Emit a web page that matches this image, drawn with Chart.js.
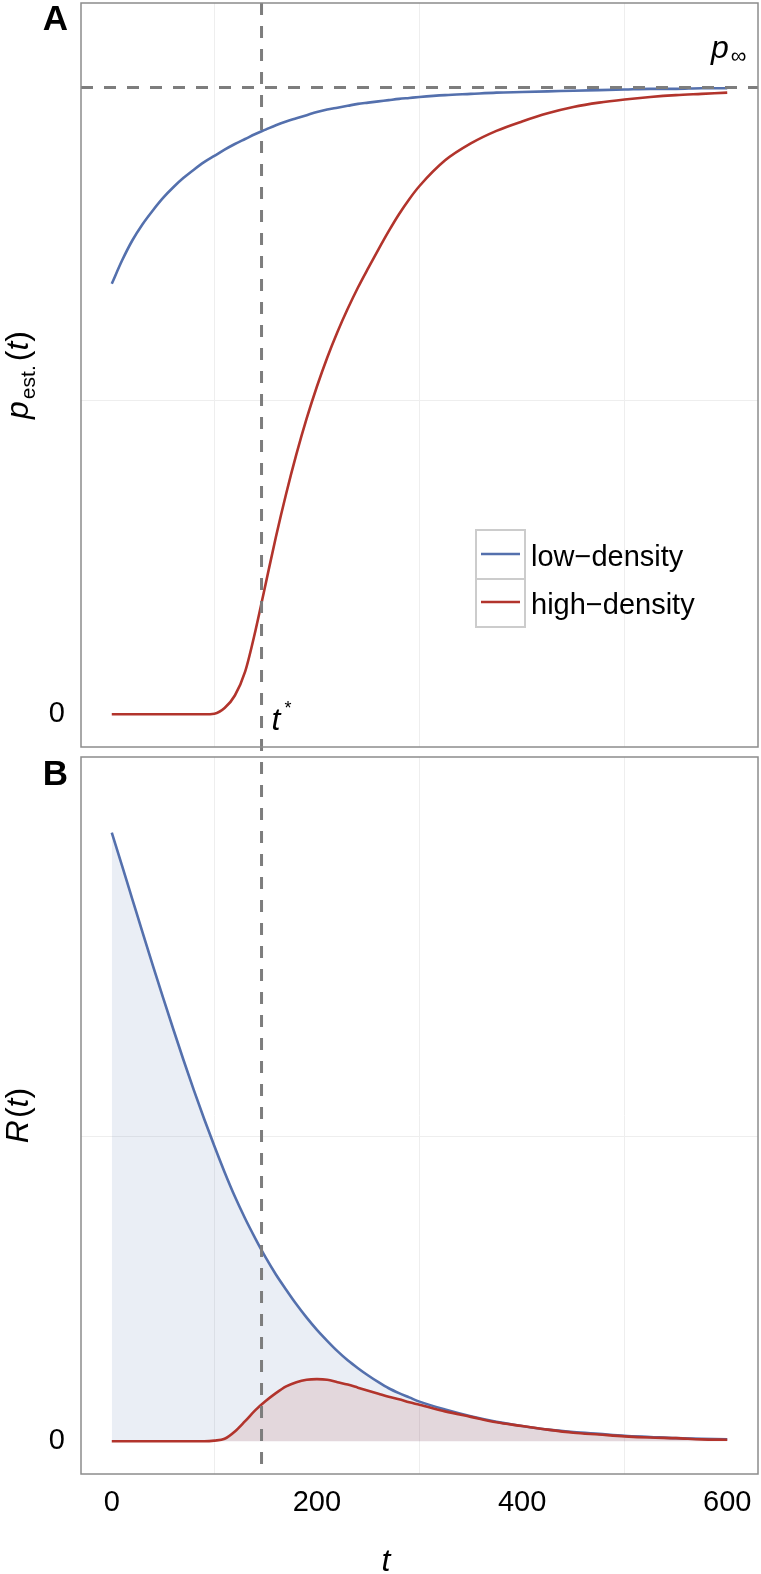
<!DOCTYPE html>
<html>
<head>
<meta charset="utf-8">
<script src="https://cdn.jsdelivr.net/npm/chart.js@4.4.0/dist/chart.umd.min.js"></script>
<style>
html, body { margin: 0; padding: 0; background: #fff; }
#page { position: relative; width: 761px; height: 1574px; }
#panneauA { position: absolute; left: 0; top: 0; }
#panneauB { position: absolute; left: 0; top: 752px; }
</style>
</head>
<body>
<div id="page">
<canvas id="panneauA" width="761" height="752"></canvas>
<canvas id="panneauB" width="761" height="822"></canvas>
</div>
<script>
// data (p_inf normalised to 1, R(0) of low-density normalised to 1)
var temps = [0, 10, 20, 30, 40, 50, 60, 70, 80, 90, 100, 110, 120, 130, 140, 150, 160, 170, 180, 190, 200,
    210, 220, 230, 240, 250, 260, 270, 280, 290, 300, 325, 350, 375, 400, 425, 450, 475, 500, 525, 550, 575, 600];
var pBas = [0.687, 0.724, 0.756, 0.782, 0.804, 0.824, 0.841, 0.856, 0.869, 0.881, 0.891, 0.901, 0.910, 0.918, 0.926,
    0.933, 0.940, 0.946, 0.951, 0.956, 0.961, 0.965, 0.968, 0.971, 0.974, 0.976, 0.978, 0.980, 0.982, 0.9835, 0.985,
    0.988, 0.990, 0.992, 0.993, 0.994, 0.995, 0.996, 0.997, 0.998, 0.998, 0.999, 0.999];
var pHaut = [0, 0, 0, 0, 0, 0, 0, 0, 0, 0, 0.001, 0.010, 0.030, 0.068, 0.133, 0.208, 0.283, 0.352, 0.415, 0.472, 0.523,
    0.569, 0.610, 0.647, 0.681, 0.712, 0.742, 0.771, 0.798, 0.822, 0.843,
    0.884, 0.911, 0.931, 0.946, 0.959, 0.969, 0.976, 0.981, 0.985, 0.988, 0.990, 0.992];
var rBas = [1.000, 0.946, 0.891, 0.836, 0.782, 0.729, 0.677, 0.626, 0.577, 0.530, 0.485, 0.442, 0.402, 0.366, 0.333,
    0.302, 0.274, 0.249, 0.225, 0.203, 0.183, 0.165, 0.148, 0.133, 0.120, 0.108, 0.097, 0.087, 0.079, 0.072, 0.065,
    0.052, 0.041, 0.032, 0.025, 0.019, 0.015, 0.012, 0.009, 0.007, 0.005, 0.004, 0.003];
var rHaut = [0, 0, 0, 0, 0, 0, 0, 0, 0, 0, 0.001, 0.004, 0.016, 0.033, 0.051, 0.066, 0.079, 0.090, 0.097, 0.101, 0.102,
    0.101, 0.097, 0.093, 0.088, 0.083, 0.078, 0.073, 0.069, 0.064, 0.060,
    0.049, 0.040, 0.031, 0.025, 0.019, 0.014, 0.011, 0.008, 0.006, 0.005, 0.003, 0.0025];
var etiquettes = ['low\u2212density', 'high\u2212density'];
var ticksT = [0, 200, 400, 600];
var grilleT = [100, 300, 500];
var pInf = 1;
var tStar = 146;

var bleu = '#5470ad', rouge = '#b2342c', gris = 'rgb(125,125,125)';
var police = '"Liberation Sans", Arial, sans-serif';

function points (ys) {
    return temps.map(function (t, i) { return {x: t, y: ys[i]}; });
}

// x axis shared by both panels
function axeX (avecTexte, hauteur) {
    return {
        type: 'linear', min: -30, max: 630,
        afterBuildTicks: function (s) {
            s.ticks = [0, 100, 200, 300, 400, 500, 600].map(function (v) { return {value: v}; });
        },
        afterFit: function (s) {
            s.height = hauteur;
            s.paddingLeft = 0; s.paddingRight = 0;
        },
        grid: {
            drawTicks: false,
            color: function (c) { return grilleT.indexOf(c.tick.value) >= 0 ? '#eeeeee' : 'rgba(0,0,0,0)'; }
        },
        border: { display: false },
        ticks: {
            display: avecTexte, padding: 12, autoSkip: false, maxRotation: 0, color: '#000',
            font: { family: police, size: 29 },
            callback: function (v) { return ticksT.indexOf(v) >= 0 ? String(v) : ''; }
        }
    };
}

function axeY (min, max) {
    return {
        type: 'linear', min: min, max: max,
        afterBuildTicks: function (s) { s.ticks = [{value: 0}, {value: 0.5}]; },
        afterFit: function (s) {
            s.width = 81;
            s.paddingTop = 0; s.paddingBottom = 0;
        },
        grid: {
            drawTicks: false,
            color: function (c) { return c.tick.value === 0.5 ? '#eeeeee' : 'rgba(0,0,0,0)'; }
        },
        border: { display: false },
        ticks: {
            padding: 16, color: '#000', font: { family: police, size: 29 },
            callback: function (v) { return v === 0 ? '0' : ''; }
        }
    };
}

// text made of pieces (italic, subscripts...)
function morceaux (ctx, parts, x, y) {
    parts.forEach(function (p) {
        ctx.font = p.f;
        ctx.fillText(p.t, x + (p.dx || 0), y + (p.dy || 0));
        x += ctx.measureText(p.t).width + (p.dx || 0);
    });
}
function largeur (ctx, parts) {
    var w = 0;
    parts.forEach(function (p) { ctx.font = p.f; w += ctx.measureText(p.t).width + (p.dx || 0); });
    return w;
}
function titreY (ctx, parts, cy) {
    ctx.save();
    ctx.translate(28, cy);
    ctx.rotate(-Math.PI / 2);
    ctx.textBaseline = 'alphabetic';
    morceaux(ctx, parts, -largeur(ctx, parts) / 2, 0);
    ctx.restore();
}

var it32 = 'italic 32px ' + police, n32 = '32px ' + police;

// dashed reference lines, frame and labels
var decor = {
    id: 'decor',
    afterDatasetsDraw: function (chart, args, opts) {
        var ctx = chart.ctx, a = chart.chartArea;
        var xs = chart.scales.x.getPixelForValue(tStar);
        ctx.save();
        ctx.strokeStyle = gris;
        ctx.lineWidth = 3;
        ctx.setLineDash([12, 11]);
        ctx.beginPath();
        if (opts.haut) {
            ctx.moveTo(xs, a.top); ctx.lineTo(xs, chart.height);
        } else {
            ctx.lineDashOffset = 13;
            ctx.moveTo(xs, 0); ctx.lineTo(xs, a.bottom);
        }
        ctx.stroke();
        if (opts.haut) {
            var yp = chart.scales.y.getPixelForValue(pInf);
            ctx.lineDashOffset = 0;
            ctx.beginPath(); ctx.moveTo(a.left, yp); ctx.lineTo(a.right, yp); ctx.stroke();
        }
        ctx.restore();

        ctx.save();
        ctx.strokeStyle = '#8c8c8c';
        ctx.lineWidth = 1.5;
        ctx.strokeRect(a.left, a.top, a.right - a.left, a.bottom - a.top);

        ctx.fillStyle = '#000';
        ctx.textAlign = 'center';
        ctx.textBaseline = 'alphabetic';
        ctx.font = 'bold 35px ' + police;
        ctx.fillText(opts.haut ? 'A' : 'B', 55.5, opts.haut ? 30 : 33);
        ctx.textAlign = 'left';

        if (opts.haut) {
            titreY(ctx, [{t: 'p', f: it32}, {t: 'est.', f: '21px ' + police, dy: 7, dx: 2}, {t: '(', f: n32, dx: 4},
                {t: 't', f: it32}, {t: ')', f: n32}], (a.top + a.bottom) / 2);
            // p infinity
            morceaux(ctx, [{t: 'p', f: it32}, {t: '\u221e', f: '22px ' + police, dy: 5, dx: 2}], 711, 58);
            // t star
            morceaux(ctx, [{t: 't', f: it32}, {t: '*', f: '18px ' + police, dy: -16, dx: 4}], xs + 10, 730);

            // legend
            ctx.strokeStyle = '#cccccc';
            ctx.lineWidth = 2;
            ctx.strokeRect(476, 530, 49, 49);
            ctx.strokeRect(476, 579, 49, 48);
            chart.data.datasets.forEach(function (d, i) {
                var yl = 554 + i * 48;
                ctx.strokeStyle = d.borderColor;
                ctx.lineWidth = 2.6;
                ctx.beginPath(); ctx.moveTo(481, yl); ctx.lineTo(520, yl); ctx.stroke();
                ctx.font = '29px ' + police;
                ctx.fillText(d.label, 531, yl + 12);
            });
        } else {
            titreY(ctx, [{t: 'R', f: it32}, {t: '(', f: n32, dx: 2}, {t: 't', f: it32}, {t: ')', f: n32}],
                (a.top + a.bottom) / 2);
            ctx.textAlign = 'center';
            ctx.font = it32;
            ctx.fillText('t', 386, chart.height - 3);
        }
        ctx.restore();
    }
};

function serie (label, ys, couleur, remplissage, ordre) {
    return {
        label: label, data: points(ys), borderColor: couleur, borderWidth: 2.6,
        pointRadius: 0, cubicInterpolationMode: 'monotone', order: ordre,
        fill: remplissage ? 'origin' : false, backgroundColor: remplissage || 'rgba(0,0,0,0)'
    };
}

var communs = {
    animation: false, responsive: false, devicePixelRatio: 1,
    events: []
};

new Chart(document.getElementById('panneauA').getContext('2d'), {
    type: 'line',
    data: {
        datasets: [serie(etiquettes[0], pBas, bleu, null, 1), serie(etiquettes[1], pHaut, rouge, null, 0)]
    },
    options: Object.assign({}, communs, {
        layout: { autoPadding: false, padding: { top: 3, right: 3, left: 0, bottom: 0 } },
        scales: { x: axeX(false, 5), y: axeY(-0.0522, 1.135) },
        plugins: { legend: { display: false }, tooltip: { enabled: false }, decor: { haut: true } }
    }),
    plugins: [decor]
});

new Chart(document.getElementById('panneauB').getContext('2d'), {
    type: 'line',
    data: {
        datasets: [serie(etiquettes[0], rBas, bleu, 'rgba(84,112,173,0.12)', 1),
            serie(etiquettes[1], rHaut, rouge, 'rgba(178,52,44,0.12)', 0)]
    },
    options: Object.assign({}, communs, {
        layout: { autoPadding: false, padding: { top: 5, right: 3, left: 0, bottom: 0 } },
        scales: { x: axeX(true, 100), y: axeY(-0.0539, 1.1244) },
        plugins: { legend: { display: false }, tooltip: { enabled: false }, decor: { haut: false } }
    }),
    plugins: [decor]
});
</script>
</body>
</html>
